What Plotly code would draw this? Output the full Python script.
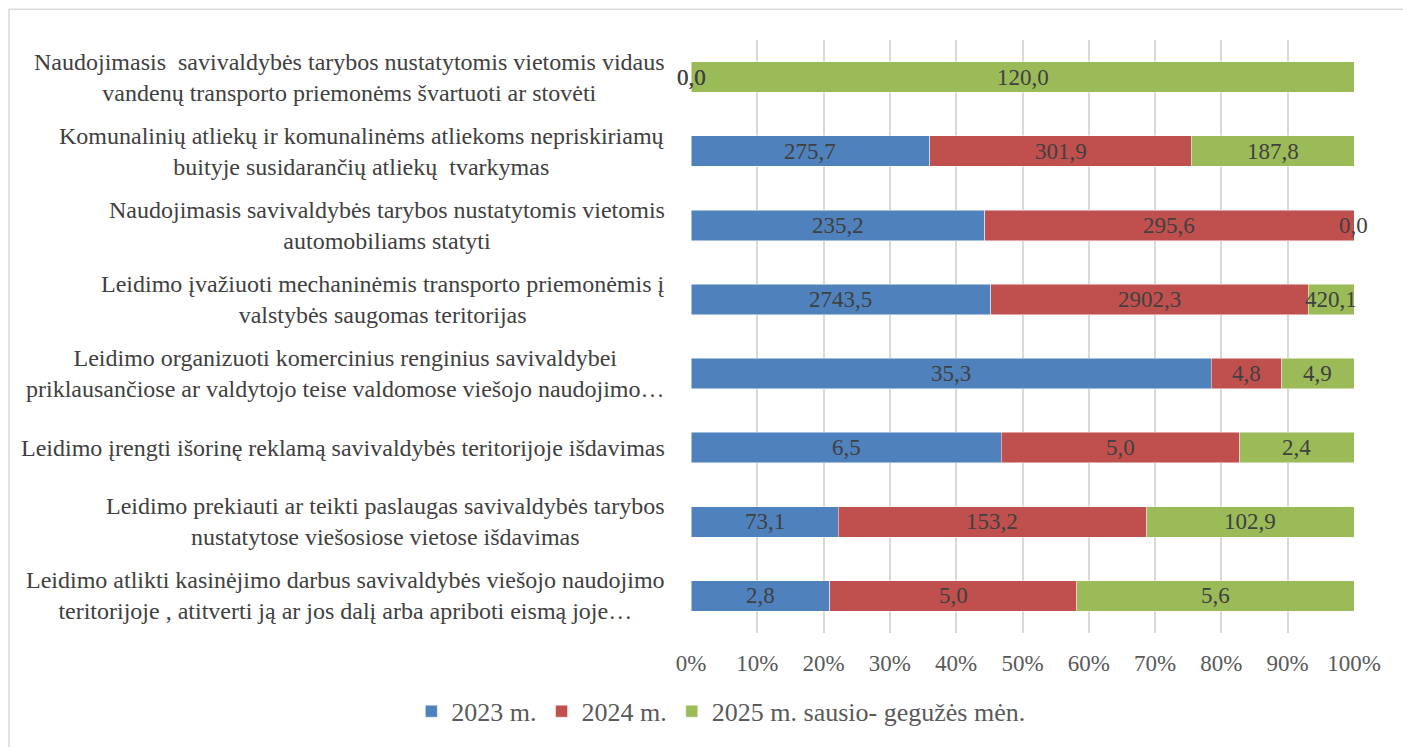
import plotly.graph_objects as go

categories = [
    "Naudojimasis  savivaldybės tarybos nustatytomis vietomis vidaus<br>vandenų transporto priemonėms švartuoti ar stovėti",
    "Komunalinių atliekų ir komunalinėms atliekoms nepriskiriamų<br>buityje susidarančių atliekų  tvarkymas",
    "Naudojimasis savivaldybės tarybos nustatytomis vietomis<br>automobiliams statyti",
    "Leidimo įvažiuoti mechaninėmis transporto priemonėmis į<br>valstybės saugomas teritorijas",
    "Leidimo organizuoti komercinius renginius savivaldybei<br>priklausančiose ar valdytojo teise valdomose viešojo naudojimo…",
    "Leidimo įrengti išorinę reklamą savivaldybės teritorijoje išdavimas",
    "Leidimo prekiauti ar teikti paslaugas savivaldybės tarybos<br>nustatytose viešosiose vietose išdavimas",
    "Leidimo atlikti kasinėjimo darbus savivaldybės viešojo naudojimo<br>teritorijoje , atitverti ją ar jos dalį arba apriboti eismą joje…",
]
series_names = ["2023 m.", "2024 m.", "2025 m. sausio- gegužės mėn."]
v2023 = [0.0, 275.7, 235.2, 2743.5, 35.3, 6.5, 73.1, 2.8]
v2024 = [0.0, 301.9, 295.6, 2902.3, 4.8, 5.0, 153.2, 5.0]
v2025 = [120.0, 187.8, 0.0, 420.1, 4.9, 2.4, 102.9, 5.6]
tick_vals = [0, 10, 20, 30, 40, 50, 60, 70, 80, 90, 100]
tick_text = [f"{v}%" for v in tick_vals]

colors = ["#4F81BD", "#C0504D", "#9BBB59"]
series = [v2023, v2024, v2025]

fig = go.Figure()
for name, vals, col in zip(series_names, series, colors):
    fig.add_trace(go.Bar(
        y=categories, x=vals, name=name, orientation="h",
        marker=dict(color=col, line=dict(color="rgba(255,255,255,0.6)", width=0.8)),
        hoverinfo="x+y+name",
    ))

annotations = []
# data labels computed from the normalized values
for i, cat in enumerate(categories):
    total = sum(s[i] for s in series)
    cum = 0.0
    for s in series:
        pct = s[i] / total * 100 if total else 0
        xpos = min(round(cum + pct / 2, 6), 99.999)
        annotations.append(dict(
            x=xpos, y=cat, xref="x", yref="y",
            text=f"{s[i]:.1f}".replace(".", ","), showarrow=False,
            font=dict(family="Liberation Serif", size=23, color="#404040"),
        ))
        cum += pct

# category labels (centered lines, right aligned block)
for cat in categories:
    annotations.append(dict(
        x=0, y=cat, xref="paper", yref="y", xanchor="right", yanchor="middle",
        xshift=-24, text=cat, align="center", showarrow=False,
        font=dict(family="Liberation Serif", size=24, color="#404040"),
    ))

fig.update_layout(
    barmode="stack", barnorm="percent", bargap=0.59,
    width=1403, height=747,
    margin=dict(l=691, r=49, t=40, b=108),
    paper_bgcolor="white", plot_bgcolor="white",
    font=dict(family="Liberation Serif", color="#595959"),
    xaxis=dict(
        range=[0, 100], tickmode="array", tickvals=tick_vals, ticktext=tick_text,
        showgrid=True, gridcolor="#D9D9D9", gridwidth=1.5,
        zeroline=False, showline=False, ticks="",
        tickfont=dict(family="Liberation Serif", size=23, color="#595959"),
        ticklabelstandoff=14,
    ),
    yaxis=dict(
        autorange="reversed", showticklabels=False, showgrid=False,
        zeroline=False, showline=False, ticks="",
    ),
    legend=dict(
        orientation="h", x=0.045, xanchor="center", y=-0.132, yanchor="middle",
        font=dict(family="Liberation Serif", size=26, color="#595959"),
        traceorder="normal", itemwidth=30,
    ),
    annotations=annotations,
    shapes=[dict(
        type="rect", xref="paper", yref="paper",
        x0=-1.0287, x1=1.09, y0=-0.25, y1=1.052,
        line=dict(color="#D9D9D9", width=1.5), layer="below",
    )],
    showlegend=True,
)

fig.write_html("out.html", config={"displayModeBar": False},
               post_script="document.body.style.margin='0';document.body.style.overflow='hidden';")
